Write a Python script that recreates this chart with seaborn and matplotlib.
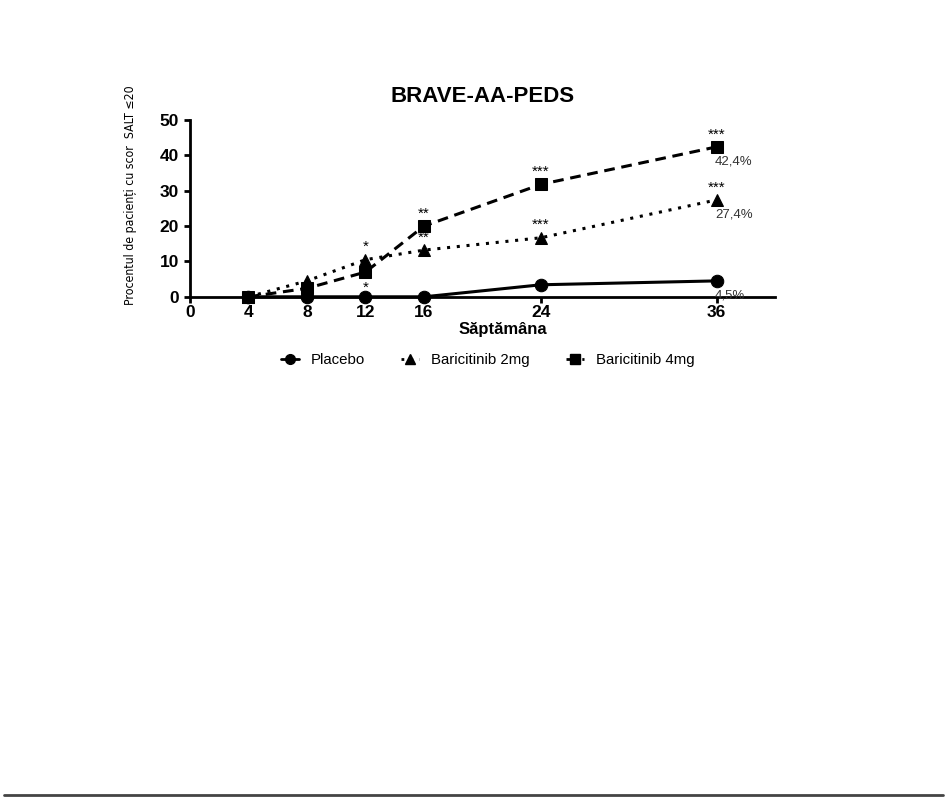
import matplotlib
matplotlib.use("Agg")
import matplotlib.pyplot as plt
import seaborn as sns
import pandas as pd
from matplotlib.lines import Line2D

# Date
saptamani = [4, 8, 12, 16, 24, 36]
placebo = [0, 0, 0, 0, 3.4, 4.5]
bari_2mg = [0, 4.5, 10.5, 13.2, 16.7, 27.4]
bari_4mg = [0, 2.4, 7.0, 20.0, 31.8, 42.4]
serii = ["Placebo", "Baricitinib 2mg", "Baricitinib 4mg"]
x_ticks = [0, 4, 8, 12, 16, 24, 36]
y_ticks = [0, 10, 20, 30, 40, 50]

# semnificatie statistica: (serie, saptamana, text, pozitie)
stele = [
    ("Baricitinib 2mg", 12, "*", "sus"),
    ("Baricitinib 4mg", 12, "*", "jos"),
    ("Baricitinib 2mg", 16, "**", "sus"),
    ("Baricitinib 4mg", 16, "**", "sus"),
    ("Baricitinib 2mg", 24, "***", "sus"),
    ("Baricitinib 4mg", 24, "***", "sus"),
    ("Baricitinib 2mg", 36, "***", "sus"),
    ("Baricitinib 4mg", 36, "***", "sus"),
]
etichete_final = ["4,5%", "27,4%", "42,4%"]

df = pd.DataFrame({
    "Săptămâna": saptamani * 3,
    "Procent": placebo + bari_2mg + bari_4mg,
    "Grup": [s for s in serii for _ in saptamani],
})
valori = {"Placebo": placebo, "Baricitinib 2mg": bari_2mg, "Baricitinib 4mg": bari_4mg}

sns.set_style("ticks", {"text.color": "black", "axes.labelcolor": "black",
                        "xtick.color": "black", "ytick.color": "black",
                        "axes.edgecolor": "black"})
plt.rcParams["font.family"] = ["Liberation Sans", "DejaVu Sans"]

fig = plt.figure(figsize=(9.47, 8), dpi=100)
ax = fig.add_axes([0.2006, 0.629, 0.6178, 0.221])

markere = {"Placebo": "o", "Baricitinib 2mg": "^", "Baricitinib 4mg": "s"}
linii = {"Placebo": "-", "Baricitinib 2mg": (0, (1, 2.2)), "Baricitinib 4mg": (0, (3.5, 2.2))}
for s in serii:
    sub = df[df["Grup"] == s]
    sns.lineplot(data=sub, x="Săptămâna", y="Procent", ax=ax, color="black",
                 marker=markere[s], markersize=9, linestyle=linii[s],
                 linewidth=2.2, markeredgecolor="black", clip_on=False,
                 legend=False, zorder=3)

for s, w, txt, poz in stele:
    y = valori[s][saptamani.index(w)]
    if poz == "sus":
        ax.annotate(txt, (w, y), xytext=(0, 4), textcoords="offset points",
                    ha="center", va="bottom", fontsize=11)
    else:
        ax.annotate(txt, (w, y), xytext=(0, -6), textcoords="offset points",
                    ha="center", va="top", fontsize=11)

for s, txt in zip(serii, etichete_final):
    y = valori[s][-1]
    ax.annotate(txt, (36, y), xytext=(-1, -6), textcoords="offset points",
                ha="left", va="top", fontsize=9.5, color="#333333")

ax.set_xlim(0, 40)
ax.set_ylim(0, 50)
ax.set_xticks(x_ticks)
ax.set_yticks(y_ticks)
for lab in ax.get_xticklabels() + ax.get_yticklabels():
    lab.set_fontweight("bold")
    lab.set_fontsize(12.5)
ax.tick_params(axis="both", width=2, length=4.5)
ax.tick_params(axis="x", pad=1.5)
ax.tick_params(axis="y", pad=3.5)
for sp in ["top", "right"]:
    ax.spines[sp].set_visible(False)
for sp in ["left", "bottom"]:
    ax.spines[sp].set_linewidth(2)

ax.set_title("BRAVE-AA-PEDS", fontsize=16, fontweight="bold", pad=13)
ax.set_xlabel("Săptămâna", fontsize=12, fontweight="bold")
ax.xaxis.set_label_coords(0.535, -0.143)
ax.set_ylabel("Procentul de pacienți cu scor  SALT ≤20", fontsize=8.8,
              family=["Liberation Sans Narrow", "DejaVu Sans"],
              fontstretch="condensed")
ax.yaxis.set_label_coords(-0.09, 0.575)

handles = [Line2D([], [], color="black", marker=markere[s], linestyle=linii[s],
                  markersize=7, linewidth=2) for s in serii]
fig.legend(handles, serii, loc="center", bbox_to_anchor=(0.515, 0.55), ncol=3,
           frameon=False, fontsize=10.8, handlelength=1.2, handletextpad=0.8,
           columnspacing=2.4)

fig.add_artist(Line2D([0.004, 0.996], [0.006, 0.006], color="#444444", linewidth=2,
                      transform=fig.transFigure))

fig.savefig("out.png", dpi=100, facecolor="white")
